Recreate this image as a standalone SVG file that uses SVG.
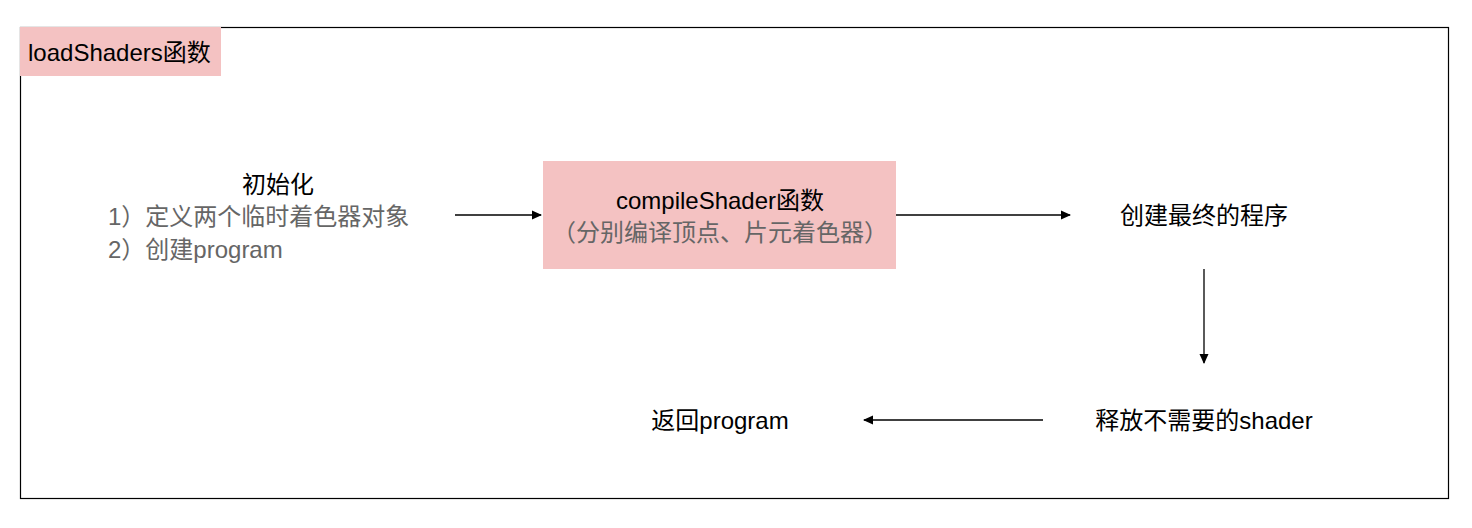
<svg xmlns="http://www.w3.org/2000/svg" width="1472" height="528" viewBox="0 0 1472 528">
<defs>
<style>
text{font-family:"Liberation Sans","Noto Sans CJK SC",sans-serif;font-size:24px;fill:#000}
.g{fill:#666}
.pink{fill:#f4c2c2}
.edge{stroke:#000;stroke-width:1.3;fill:none;marker-end:url(#ah)}
</style>
<marker id="ah" viewBox="0 0 10 10" refX="9" refY="5" markerWidth="10" markerHeight="10" markerUnits="userSpaceOnUse" orient="auto"><path d="M0,0.5 L10,5 L0,9.5 z" fill="#000"/></marker>
</defs>
<rect width="1472" height="528" fill="#fff"/>
<g id="frame">
<rect x="20.5" y="27.5" width="1428" height="471" fill="none" stroke="#000" stroke-width="1.2"/>
<rect class="pink" x="20" y="27" width="201" height="49"/>
<text x="28" y="61">loadShaders函数</text>
</g>
<g id="init">
<text x="278" y="193" text-anchor="middle">初始化</text>
<text class="g" x="108" y="225">1）定义两个临时着色器对象</text>
<text class="g" x="108" y="258">2）创建program</text>
</g>
<g id="compile">
<rect class="pink" x="543" y="161" width="353" height="108"/>
<text x="720" y="209" text-anchor="middle">compileShader函数</text>
<text class="g" x="720" y="241" text-anchor="middle">（分别编译顶点、片元着色器）</text>
</g>
<g id="create">
<text x="1204" y="224" text-anchor="middle">创建最终的程序</text>
</g>
<g id="release">
<text x="1204" y="429" text-anchor="middle">释放不需要的shader</text>
</g>
<g id="return">
<text x="720" y="429" text-anchor="middle">返回program</text>
</g>
<g id="connectors">
<path class="edge" d="M455,215 H541"/>
<path class="edge" d="M896,215 H1070"/>
<path class="edge" d="M1204,269 V363"/>
<path class="edge" d="M1043,420 H864"/>
</g>
</svg>
